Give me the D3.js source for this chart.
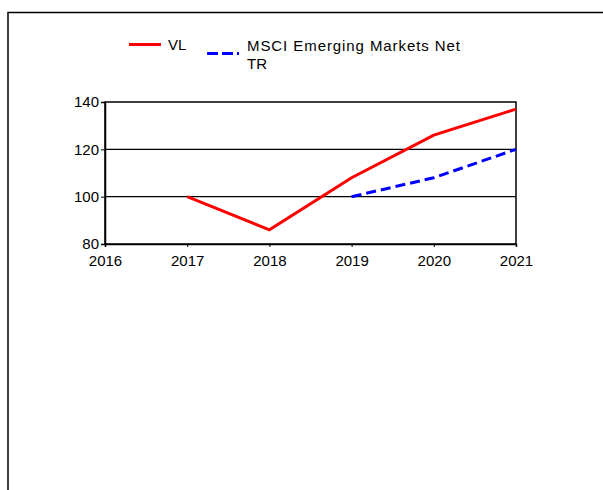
<!DOCTYPE html>
<html>
<head>
<meta charset="utf-8">
<script src="https://cdn.jsdelivr.net/npm/d3@7"></script>
<style>
  html, body { margin: 0; padding: 0; background: #fff; }
  svg text { font-family: "Liberation Sans", Arial, sans-serif; fill: #000; }
</style>
</head>
<body>
<svg id="chart" width="603" height="490"></svg>
<script>
const years = [2016, 2017, 2018, 2019, 2020, 2021];
const vlValues = [null, 100, 86, 108, 126, 137];
const msciValues = [null, null, null, 100, 108, 120];
const yTicks = [80, 100, 120, 140];
const seriesNames = ["VL", "MSCI Emerging Markets Net", "TR"];

const svg = d3.select("#chart");

// outer frame (extends beyond the visible window)
svg.append("rect")
  .attr("x", 8).attr("y", 12.5)
  .attr("width", 700).attr("height", 600)
  .attr("fill", "none").attr("stroke", "#000").attr("stroke-width", 1.5);

const pLeft = 105, pRight = 516, pTop = 102, pBottom = 244;
const x = d3.scaleLinear().domain([years[0], years[years.length - 1]]).range([pLeft, pRight]);
const y = d3.scaleLinear().domain([80, 140]).range([pBottom, pTop]);

// gridlines
svg.append("g").selectAll("line").data(yTicks.filter(t => t > 80 && t < 140)).join("line")
  .attr("x1", pLeft).attr("x2", pRight)
  .attr("y1", d => y(d)).attr("y2", d => y(d))
  .attr("stroke", "#000").attr("stroke-width", 1.3);

// plot box
svg.append("rect")
  .attr("x", pLeft).attr("y", pTop)
  .attr("width", pRight - pLeft).attr("height", pBottom - pTop)
  .attr("fill", "none").attr("stroke", "#000").attr("stroke-width", 1.5);

// y axis
const yAxis = svg.append("g").attr("transform", `translate(${pLeft},0)`)
  .call(d3.axisLeft(y).tickValues(yTicks).tickSize(4).tickPadding(2).tickFormat(d3.format("d")));
yAxis.select(".domain").attr("stroke", "#000").attr("stroke-width", 1.5);
yAxis.selectAll("text").style("font-size", "15px").attr("font-family", null);
yAxis.selectAll(".tick line").attr("stroke", "#000");

// x axis
const xAxis = svg.append("g").attr("transform", `translate(0,${pBottom})`)
  .call(d3.axisBottom(x).tickValues(years).tickSize(3).tickPadding(8).tickFormat(d3.format("d")));
xAxis.select(".domain").attr("stroke", "#000").attr("stroke-width", 1.5);
xAxis.selectAll("text").style("font-size", "15px").attr("font-family", null);
xAxis.selectAll(".tick line").attr("stroke", "#000");

// series lines
const line = d3.line()
  .defined(d => d[1] != null)
  .x(d => x(d[0])).y(d => y(d[1]));

svg.append("path")
  .datum(years.map((yr, i) => [yr, vlValues[i]]))
  .attr("d", line)
  .attr("fill", "none").attr("stroke", "#ff0000").attr("stroke-width", 3);

svg.append("path")
  .datum(years.map((yr, i) => [yr, msciValues[i]]))
  .attr("d", line)
  .attr("fill", "none").attr("stroke", "#0000ff").attr("stroke-width", 3)
  .attr("stroke-dasharray", "10,5");

// legend
const lg = svg.append("g");
lg.append("line").attr("x1", 129).attr("x2", 161).attr("y1", 44.5).attr("y2", 44.5)
  .attr("stroke", "#ff0000").attr("stroke-width", 3);
lg.append("text").attr("x", 168).attr("y", 50).style("font-size", "15px").text(seriesNames[0]);
lg.append("line").attr("x1", 207).attr("x2", 239).attr("y1", 53.5).attr("y2", 53.5)
  .attr("stroke", "#0000ff").attr("stroke-width", 3).attr("stroke-dasharray", "11,4");
lg.append("text").attr("x", 247).attr("y", 50.5).style("font-size", "15px")
  .attr("textLength", 213).attr("lengthAdjust", "spacing").text(seriesNames[1]);
lg.append("text").attr("x", 247).attr("y", 68.5).style("font-size", "15px").text(seriesNames[2]);
</script>
</body>
</html>
